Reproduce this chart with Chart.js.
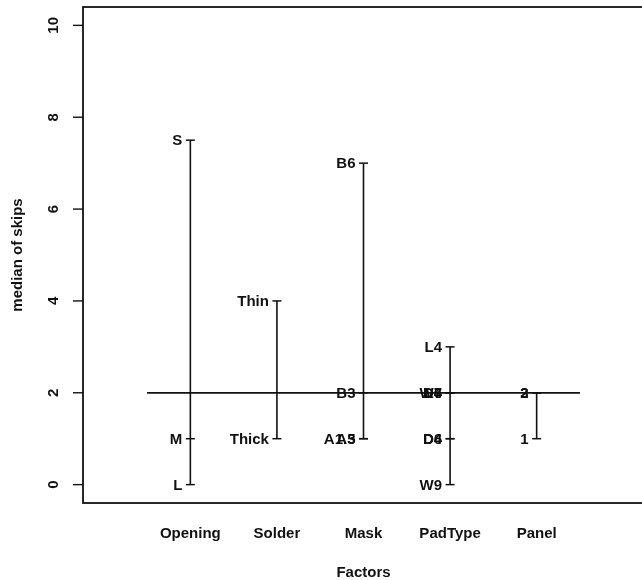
<!DOCTYPE html>
<html>
<head>
<meta charset="utf-8">
<script src="https://cdn.jsdelivr.net/npm/chart.js@4.4.1/dist/chart.umd.min.js"></script>
<style>
  html, body { margin: 0; padding: 0; background: #fff; }
  #wrap { width: 642px; height: 580px; overflow: hidden; }
  canvas { display: block; }
</style>
</head>
<body>
<div id="wrap"><canvas id="design-chart" width="650" height="580"></canvas></div>
<script>
const factorNames = ["Opening", "Solder", "Mask", "PadType", "Panel"];

const openingLevels = ["S", "M", "L"];
const openingMedians = [7.5, 1, 0];

const solderLevels = ["Thin", "Thick"];
const solderMedians = [4, 1];

const maskLevels = ["B6", "B3", "A1.5", "A3"];
const maskMedians = [7, 2, 1, 1];

const padTypeLevels = ["L4", "W4", "L6", "D7", "D4", "D6", "W9"];
const padTypeMedians = [3, 2, 2, 2, 1, 1, 0];

const panelLevels = ["2", "3", "1"];
const panelMedians = [2, 2, 1];

const grandMedian = 2;
const yTickValues = [0, 2, 4, 6, 8, 10];

const levelSets = [
  [openingLevels, openingMedians],
  [solderLevels, solderMedians],
  [maskLevels, maskMedians],
  [padTypeLevels, padTypeMedians],
  [panelLevels, panelMedians],
];

const INK = "#111";
const FAMILY = "'Liberation Sans', Arial, sans-serif";
const labelFont = "bold 15px " + FAMILY;

// one vertical segment per factor, a short tick at every level median
const factorDatasets = levelSets.map(([levels, medians], i) => ({
  label: factorNames[i],
  levels: levels,
  data: medians.map((m) => ({ x: i + 1, y: m })),
  showLine: true,
  borderColor: INK,
  borderWidth: 1.6,
  pointStyle: "line",
  pointRadius: 4.5,
  pointBorderWidth: 1.5,
  pointBorderColor: INK,
  pointHoverRadius: 4.5,
}));

const medianLine = {
  label: "median",
  data: [
    { x: 0.5, y: grandMedian },
    { x: factorNames.length + 0.5, y: grandMedian },
  ],
  showLine: true,
  borderColor: INK,
  borderWidth: 1.8,
  pointRadius: 0,
};

const designPlot = {
  id: "designPlot",
  afterDatasetsDraw(chart) {
    const ctx = chart.ctx;
    const area = chart.chartArea;
    const yScale = chart.scales.y;
    ctx.save();

    // level names to the left of each tick
    ctx.fillStyle = INK;
    ctx.font = labelFont;
    ctx.textAlign = "right";
    ctx.textBaseline = "middle";
    chart.data.datasets.forEach((ds, di) => {
      if (!ds.levels) return;
      const meta = chart.getDatasetMeta(di);
      meta.data.forEach((pt, pi) => {
        ctx.fillText(ds.levels[pi], pt.x - 8, pt.y + 1);
      });
    });

    // frame around the plot region
    ctx.strokeStyle = INK;
    ctx.lineWidth = 1.8;
    ctx.strokeRect(area.left, area.top, area.right - area.left, area.bottom - area.top);

    // y axis ticks and rotated tick labels
    ctx.lineWidth = 1.4;
    ctx.font = labelFont;
    ctx.textAlign = "center";
    ctx.textBaseline = "middle";
    yTickValues.forEach((v) => {
      const py = yScale.getPixelForValue(v);
      ctx.beginPath();
      ctx.moveTo(area.left - 10, py);
      ctx.lineTo(area.left, py);
      ctx.stroke();
      ctx.save();
      ctx.translate(area.left - 29, py);
      ctx.rotate(-Math.PI / 2);
      ctx.fillText(String(v), 0, 0);
      ctx.restore();
    });
    ctx.restore();
  },
};

new Chart(document.getElementById("design-chart"), {
  type: "scatter",
  data: { datasets: [...factorDatasets, medianLine] },
  plugins: [designPlot],
  options: {
    responsive: false,
    animation: false,
    events: [],
    layout: { padding: { top: 7, left: 0, right: 0, bottom: 0 } },
    plugins: { legend: { display: false }, tooltip: { enabled: false } },
    scales: {
      x: {
        type: "linear",
        min: -0.24,
        max: 6.24,
        afterBuildTicks: (scale) => {
          scale.ticks = factorNames.map((n, i) => ({ value: i + 1 }));
        },
        afterFit: (scale) => {
          scale.height = 77;
        },
        grid: { display: false },
        border: { display: false },
        ticks: {
          autoSkip: false,
          maxRotation: 0,
          padding: 15,
          color: INK,
          font: { family: FAMILY, size: 15, weight: "bold", lineHeight: 1 },
          callback: (v) => factorNames[v - 1],
        },
        title: {
          display: true,
          text: "Factors",
          color: INK,
          padding: { top: 0, bottom: 0 },
          font: { family: FAMILY, size: 15, weight: "bold", lineHeight: 1 },
        },
      },
      y: {
        type: "linear",
        min: -0.4,
        max: 10.4,
        afterFit: (scale) => {
          scale.width = 83;
        },
        grid: { display: false },
        border: { display: false },
        ticks: { display: false },
        title: {
          display: true,
          text: "median of skips",
          color: INK,
          padding: { top: 10, bottom: 0 },
          font: { family: FAMILY, size: 15, weight: "bold", lineHeight: 1 },
        },
      },
    },
  },
});
</script>
</body>
</html>
